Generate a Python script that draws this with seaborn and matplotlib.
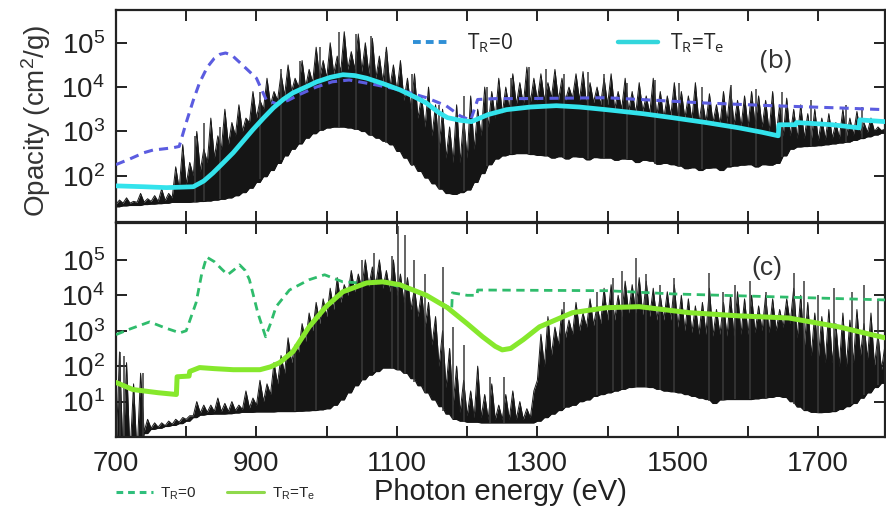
import numpy as np
import pandas as pd
import matplotlib
matplotlib.use("Agg")
import matplotlib.pyplot as plt
from matplotlib.lines import Line2D
import seaborn as sns

# ---------------- data (log10 of opacity, cm^2/g) ----------------
grid_e = list(range(700, 1800, 10))          # spectrum sample energies (eV)
spike_e = [e + 5 for e in grid_e]             # in-between line-peak energies (eV)

# panel (b) spectrum
b_lo = [1.30, 1.32, 1.33, 1.33, 1.35, 1.36, 1.37, 1.38,
        1.40, 1.40, 1.40, 1.41, 1.42, 1.43, 1.45, 1.47, 1.50,
        1.55, 1.62, 1.72, 1.85, 1.98, 2.12, 2.28, 2.45, 2.60, 2.72, 2.85, 2.95, 3.03,
        3.08, 3.10, 3.10, 3.08, 3.05, 3.00, 2.92, 2.85, 2.78, 2.70,
        2.55, 2.40, 2.25, 2.10, 1.95, 1.82, 1.70, 1.60, 1.58, 1.62,
        1.68, 1.85, 2.05, 2.25, 2.38, 2.45, 2.48, 2.50, 2.50, 2.48,
        2.46, 2.45, 2.40, 2.43, 2.38, 2.43, 2.42, 2.36, 2.41, 2.40,
        2.40, 2.35, 2.38, 2.37, 2.30, 2.35, 2.33, 2.26, 2.28, 2.25,
        2.22, 2.16, 2.18, 2.12, 2.17, 2.18, 2.12, 2.20, 2.22, 2.24,
        2.25, 2.20, 2.25, 2.24, 2.28, 2.45, 2.60, 2.65, 2.66, 2.67,
        2.68, 2.70, 2.72, 2.74, 2.76, 2.80, 2.84, 2.88, 2.92, 2.96]
b_core = [1.36, 1.38, 1.38, 1.40, 1.40, 1.42, 1.42, 1.44,
          1.50, 1.70, 1.80, 2.00, 2.10, 2.30, 2.40, 2.60, 2.70,
          2.90, 3.00, 3.20, 3.30, 3.50, 3.60, 3.70, 3.80, 3.90, 4.00, 4.00, 4.10, 4.20,
          4.20, 4.30, 4.35, 4.40, 4.40, 4.35, 4.30, 4.20, 4.10, 4.00,
          3.90, 3.70, 3.50, 3.30, 3.10, 2.90, 2.60, 2.40, 2.30, 2.30,
          2.40, 2.60, 2.90, 3.10, 3.30, 3.40, 3.50, 3.60, 3.60, 3.65,
          3.70, 3.70, 3.75, 3.70, 3.70, 3.75, 3.70, 3.60, 3.65, 3.60,
          3.60, 3.50, 3.50, 3.45, 3.40, 3.45, 3.40, 3.35, 3.30, 3.35,
          3.30, 3.30, 3.25, 3.20, 3.20, 3.20, 3.15, 3.20, 3.15, 3.10,
          3.10, 3.15, 3.10, 3.00, 2.90, 2.90, 2.90, 2.85, 2.85, 2.80,
          2.80, 2.82, 2.85, 2.85, 2.88, 2.92, 2.95, 2.98, 3.00, 3.02]
b_peak = [1.45, 1.50, 1.42, 1.60, 1.48, 1.55, 1.70, 1.60,
          2.20, 2.70, 2.30, 3.00, 2.60, 3.30, 2.90, 3.50, 3.20,
          3.60, 3.30, 3.90, 3.70, 4.20, 3.90, 4.30, 4.50, 4.20, 4.60, 4.40, 4.90, 4.60,
          5.00, 4.70, 5.25, 4.80, 5.20, 5.00, 5.10, 4.70, 4.90, 4.50,
          4.60, 4.20, 4.30, 3.80, 4.00, 3.60, 3.50, 3.10, 3.60, 3.30,
          3.80, 3.50, 4.00, 3.90, 4.20, 4.00, 4.30, 4.10, 4.45, 4.20,
          4.30, 4.10, 4.40, 4.20, 4.00, 4.30, 4.35, 4.10, 4.00, 4.20,
          4.30, 3.90, 4.20, 3.90, 4.10, 3.80, 4.20, 3.90, 3.80, 4.10,
          3.90, 3.80, 4.10, 3.70, 3.85, 3.60, 3.90, 4.00, 3.70, 3.80,
          3.90, 3.80, 3.70, 3.90, 3.60, 3.75, 3.50, 3.60, 3.40, 3.50,
          3.30, 3.40, 3.20, 3.50, 3.30, 3.45, 3.20, 3.30, 3.10, 3.05]
# isolated strong lines, panel (b)
b_line_e = [812, 826, 848, 905, 935, 962, 990, 1018, 1042, 1063, 1085, 1122, 1160, 1195,
            1228, 1262, 1288, 1312, 1338, 1372, 1395, 1428, 1468, 1502, 1535, 1576, 1612,
            1648, 1690, 1740, 1762]
b_line_v = [2.9, 3.2, 3.1, 3.9, 4.4, 4.6, 4.9, 5.25, 5.2, 5.15, 4.8, 4.3, 3.6, 3.8,
            4.0, 4.2, 4.45, 4.4, 4.3, 4.35, 4.3, 4.1, 4.15, 4.1, 4.0, 4.05, 3.95,
            3.9, 3.7, 3.6, 3.55]

# panel (b) model curves
b_tr0_e = [700, 720, 740, 753, 765, 781, 790, 800, 810, 819, 830, 840, 848, 856, 865,
           880, 900, 914, 929, 945, 961, 985, 1008, 1032, 1070, 1104, 1142, 1170, 1190,
           1205, 1215, 1240, 1279, 1340, 1398, 1470, 1540, 1634, 1729, 1795]
b_tr0_v = [2.25, 2.38, 2.52, 2.58, 2.60, 2.63, 2.66, 3.20, 3.70, 4.10, 4.45, 4.65, 4.74,
           4.77, 4.72, 4.50, 4.20, 3.71, 3.62, 3.70, 3.83, 4.00, 4.12, 4.16, 4.05, 3.94,
           3.76, 3.58, 3.35, 3.25, 3.72, 3.74, 3.74, 3.75, 3.76, 3.70, 3.64, 3.58, 3.53, 3.49]
b_tre_e = [700, 740, 772, 810, 825, 838, 852, 867, 881, 895, 910, 924, 938, 952, 970, 986,
           1005, 1023, 1040, 1057, 1080, 1104, 1125, 1142, 1160, 1172, 1190, 1206, 1230,
           1256, 1290, 1327, 1360, 1398, 1450, 1492, 1540, 1587, 1620, 1643, 1644, 1668,
           1669, 1720, 1758, 1759, 1795]
b_tre_v = [1.77, 1.75, 1.73, 1.75, 1.88, 2.06, 2.28, 2.52, 2.78, 3.04, 3.30, 3.53, 3.72,
           3.87, 4.00, 4.12, 4.22, 4.28, 4.26, 4.20, 4.08, 3.94, 3.78, 3.64, 3.42, 3.31,
           3.25, 3.22, 3.38, 3.49, 3.55, 3.58, 3.55, 3.49, 3.40, 3.31, 3.20, 3.08, 2.98,
           2.90, 3.15, 3.15, 3.20, 3.15, 3.08, 3.26, 3.22]

# panel (c) spectrum
c_lo = [-0.5, -0.5, -0.5, -0.5, 0.10, 0.22, 0.25, 0.30,
        0.33, 0.38, 0.45, 0.55, 0.62, 0.64, 0.65, 0.65, 0.66,
        0.68, 0.70, 0.70, 0.71, 0.71, 0.71, 0.72, 0.72, 0.72, 0.73, 0.74, 0.75, 0.77,
        0.80, 0.90, 1.05, 1.25, 1.45, 1.62, 1.75, 1.85, 1.95, 1.95,
        1.90, 1.80, 1.65, 1.45, 1.25, 1.05, 0.86, 0.65, 0.50, 0.45,
        0.42, 0.42, 0.40, 0.40, 0.40, 0.40, 0.40, 0.40, 0.40, 0.40,
        0.45, 0.55, 0.65, 0.75, 0.85, 0.90, 1.00, 1.05, 1.15, 1.20,
        1.25, 1.30, 1.35, 1.40, 1.42, 1.42, 1.40, 1.35, 1.30, 1.28,
        1.25, 1.20, 1.15, 1.10, 1.06, 0.95, 1.05, 1.06, 1.06, 1.06,
        1.06, 1.08, 1.10, 1.12, 1.15, 1.12, 1.00, 0.85, 0.75, 0.70,
        0.69, 0.70, 0.72, 0.78, 0.86, 0.95, 1.10, 1.25, 1.40, 1.52]
c_core = [-0.5, -0.5, -0.5, -0.5, 0.15, 0.25, 0.28, 0.32,
          0.36, 0.42, 0.50, 0.60, 0.68, 0.70, 0.72, 0.72, 0.72,
          0.75, 0.78, 0.82, 0.90, 1.00, 1.20, 1.50, 1.80, 2.10, 2.40, 2.70, 3.00, 3.20,
          3.40, 3.60, 3.80, 4.00, 4.10, 4.20, 4.25, 4.30, 4.20, 4.10,
          4.00, 3.80, 3.60, 3.40, 3.10, 2.60, 2.00, 1.40, 0.90, 0.70,
          0.60, 0.55, 0.55, 0.50, 0.50, 0.50, 0.50, 0.50, 0.50, 0.55,
          1.60, 2.00, 2.30, 2.60, 2.80, 2.90, 3.00, 3.10, 3.15, 3.20,
          3.30, 3.30, 3.40, 3.50, 3.50, 3.45, 3.40, 3.30, 3.30, 3.30,
          3.10, 3.00, 2.95, 2.90, 2.90, 2.85, 2.90, 2.85, 2.85, 2.90,
          2.90, 2.95, 3.00, 2.95, 3.00, 3.10, 3.20, 2.80, 2.50, 2.30,
          2.20, 2.10, 2.10, 2.00, 2.00, 2.10, 2.30, 2.20, 2.00, 1.90]
c_peak = [2.40, 2.10, 1.50, 1.80, 0.50, 0.40, 0.40, 0.45,
          0.50, 0.55, 0.60, 1.00, 0.90, 0.90, 1.10, 0.95, 1.00,
          0.90, 1.30, 1.10, 1.60, 1.50, 2.10, 2.30, 2.80, 2.60, 3.20, 3.50, 3.80, 3.90,
          4.20, 4.50, 4.30, 4.70, 4.60, 5.00, 4.80, 5.00, 4.70, 5.00,
          4.60, 4.50, 4.20, 4.10, 3.80, 3.40, 3.00, 2.50, 2.00, 1.60,
          1.30, 2.00, 1.20, 1.50, 0.90, 1.20, 1.30, 1.00, 0.80, 1.30,
          2.90, 3.40, 3.10, 3.60, 3.30, 3.80, 3.50, 3.90, 3.70, 4.20,
          4.30, 4.00, 4.40, 4.30, 4.50, 4.40, 4.20, 4.00, 4.10, 4.30,
          4.00, 3.90, 3.70, 3.80, 4.20, 3.60, 3.80, 4.00, 4.10, 3.90,
          4.00, 3.70, 4.00, 3.90, 3.60, 3.90, 4.20, 4.00, 3.80, 3.50,
          3.40, 3.60, 3.20, 3.50, 3.30, 3.60, 3.20, 3.50, 2.90, 2.60]
# isolated strong lines, panel (c)
c_line_e = [705, 712, 739, 955, 985, 1050, 1068, 1093, 1101, 1112, 1125, 1140, 1166, 1180,
            1195, 1232, 1252, 1338, 1385, 1408, 1421, 1440, 1455, 1475, 1495, 1545, 1565,
            1582, 1603, 1625, 1665, 1680, 1700, 1722, 1748, 1765, 1785]
c_line_v = [2.4, 2.3, 1.8, 2.5, 3.6, 5.0, 5.2, 5.1, 5.95, 5.7, 5.0, 4.6, 4.8, 3.1,
            2.6, 1.7, 1.7, 3.8, 4.1, 4.5, 4.7, 5.05, 4.6, 4.3, 4.5, 4.63, 4.1,
            4.3, 4.4, 4.1, 4.63, 4.4, 4.0, 4.2, 4.1, 4.3, 3.9]

# panel (c) model curves
c_tr0_e = [700, 720, 748, 770, 791, 800, 814, 822, 829, 840, 850, 859, 868, 876, 884, 890,
           902, 913, 920, 928, 947, 975, 997, 1023, 1047, 1080, 1128, 1150, 1172, 1178,
           1179, 1200, 1214, 1215, 1400, 1492, 1634, 1795]
c_tr0_v = [2.89, 3.05, 3.25, 3.08, 2.94, 3.00, 3.79, 4.60, 5.08, 4.95, 4.75, 4.58, 4.72,
           4.86, 4.70, 4.44, 3.50, 2.83, 3.20, 3.68, 4.15, 4.44, 4.58, 4.38, 4.35, 4.38,
           4.10, 3.90, 3.68, 3.60, 4.07, 4.00, 4.00, 4.15, 4.13, 4.04, 3.96, 3.87]
c_tre_e = [700, 724, 760, 786, 787, 804, 805, 819, 840, 867, 905, 920, 933, 952, 975, 999,
           1023, 1057, 1080, 1104, 1142, 1172, 1200, 1222, 1240, 1250, 1262, 1280, 1303,
           1350, 1398, 1445, 1516, 1587, 1658, 1729, 1795]
c_tre_v = [1.54, 1.34, 1.25, 1.20, 1.70, 1.72, 1.85, 1.96, 1.93, 1.90, 1.90, 1.98, 2.10,
           2.41, 3.11, 3.68, 4.10, 4.35, 4.38, 4.30, 4.00, 3.65, 3.20, 2.83, 2.56, 2.46,
           2.50, 2.75, 3.11, 3.51, 3.65, 3.68, 3.51, 3.42, 3.36, 3.11, 2.80]

x_ticks = list(range(700, 1800, 100))
x_labels = ["700", "", "900", "", "1100", "", "1300", "", "1500", "", "1700"]

# ---------------- style ----------------
sns.set_style("ticks")
plt.rcParams["font.family"] = ["Liberation Sans", "DejaVu Sans"]
plt.rcParams["mathtext.default"] = "regular"
plt.rcParams["axes.linewidth"] = 1.6

fig = plt.figure(figsize=(8.87, 5.17), dpi=100)
W, H = 887, 517
L, R = 116, 885
ax1 = fig.add_axes([L / W, 1 - 222 / H, (R - L) / W, (222 - 10) / H])
ax2 = fig.add_axes([L / W, 1 - 437 / H, (R - L) / W, (437 - 223) / H])


def draw_spectrum(ax, lo, core, peak, line_e, line_v):
    # saw-tooth trace alternating between sample points and line peaks
    xs, up, dn = [], [], []
    for e, s, l, c, p in zip(grid_e, spike_e, lo, core, peak):
        xs += [e, s]
        up += [c, p]
        dn += [l, l]
    xs = np.array(xs, dtype=float)
    up_v = 10 ** np.array(up)
    dn_v = 10 ** np.array(dn)
    ax.fill_between(xs, dn_v, up_v, color="#151515", lw=0, zorder=1)
    ax.plot(xs, up_v, color="#1a1a1a", lw=0.7, zorder=1)
    ax.plot(xs, dn_v, color="#151515", lw=1.0, zorder=1)
    # strong isolated lines
    base = np.interp(line_e, grid_e, lo)
    ax.vlines(np.array(line_e, dtype=float), 10 ** base, 10 ** np.array(line_v),
              color="#3a3a3a", lw=1.1, zorder=1)


def curve(ax, ev, lv, color, lw, dashed=False, z=3):
    df = pd.DataFrame({"E": ev, "k": 10 ** np.array(lv)})
    sns.lineplot(data=df, x="E", y="k", ax=ax, color=color, lw=lw,
                 estimator=None, sort=False, zorder=z,
                 linestyle="--" if dashed else "-")
    if dashed:
        ax.get_lines()[-1].set_dashes((3.0, 2.0))


draw_spectrum(ax1, b_lo, b_core, b_peak, b_line_e, b_line_v)
curve(ax1, b_tr0_e, b_tr0_v, "#5b5ce0", 2.2, dashed=True, z=3)
curve(ax1, b_tre_e, b_tre_v, "#33e3ec", 3.4, z=4)

draw_spectrum(ax2, c_lo, c_core, c_peak, c_line_e, c_line_v)
curve(ax2, c_tr0_e, c_tr0_v, "#2fbc6c", 2.0, dashed=True, z=3)
curve(ax2, c_tre_e, c_tre_v, "#86e82c", 3.6, z=4)

for ax in (ax1, ax2):
    ax.set_yscale("log")
    ax.set_xlim(700, 1795)
    ax.set_xticks(x_ticks)
    ax.set_xlabel("")
    ax.set_ylabel("")
    ax.tick_params(which="major", direction="in", length=8, width=1.4,
                   top=True, right=True, labelsize=20, pad=8, colors="#222222")
    ax.tick_params(which="minor", direction="in", length=4, width=1.0,
                   top=False, right=True)
    for s in ax.spines.values():
        s.set_color("#222222")

ax1.set_ylim(9, 5.5e5)
ax1.set_yticks([1e2, 1e3, 1e4, 1e5])
ax1.set_xticklabels([""] * len(x_ticks))
ax2.set_ylim(1.0, 1.1e6)
ax2.set_yticks([1e1, 1e2, 1e3, 1e4, 1e5])
ax2.set_xticklabels(x_labels)
ax2.tick_params(axis="x", pad=10)

ax1.set_ylabel("Opacity (cm$^2$/g)", fontsize=20, color="#333333")
ax1.yaxis.set_label_coords((53 - L) / (R - L), 0.48)
ax2.set_xlabel("Photon energy (eV)", fontsize=21, color="#222222", labelpad=1)

ax1.text(0.858, 0.76, "(b)", transform=ax1.transAxes, fontsize=19,
         family=["Open Sans", "DejaVu Sans"], ha="center", va="center", color="#333333")
ax2.text(0.847, 0.79, "(c)", transform=ax2.transAxes, fontsize=19,
         ha="center", va="center", color="#333333")

# top-panel legends
lg1 = ax1.legend(handles=[Line2D([], [], color="#2f8fd6", lw=2.8, ls=(0, (2.0, 1.3)))],
                 labels=["$T_R$=0"], loc="center left",
                 bbox_to_anchor=((413 - L) / (R - L), (222 - 43) / 212),
                 frameon=False, handlelength=1.7, handletextpad=0.9,
                 borderpad=0, borderaxespad=0,
                 prop={"family": ["Open Sans", "DejaVu Sans"], "size": 15})
ax1.add_artist(lg1)
ax1.legend(handles=[Line2D([], [], color="#33d6dc", lw=3.2)],
           labels=["$T_R$=$T_e$"], loc="center left",
           bbox_to_anchor=((618 - L) / (R - L), (222 - 43) / 212),
           frameon=False, handlelength=1.9, handletextpad=0.6,
           borderpad=0, borderaxespad=0,
           prop={"family": ["Open Sans", "DejaVu Sans"], "size": 15})

# bottom legend
fig.legend(handles=[Line2D([], [], color="#2fbf7c", lw=2.2, ls=(0, (2.2, 1.6))),
                    Line2D([], [], color="#8fd94c", lw=2.2)],
           labels=["$T_R$=0", "$T_R$=$T_e$"], loc="center left",
           bbox_to_anchor=(116 / W, 1 - 494 / H), ncol=2, frameon=False,
           handlelength=2.4, handletextpad=0.5, columnspacing=2.0,
           borderpad=0, borderaxespad=0,
           prop={"family": ["Liberation Sans Narrow", "Liberation Sans"], "size": 11})

fig.savefig("out.png", dpi=100)
